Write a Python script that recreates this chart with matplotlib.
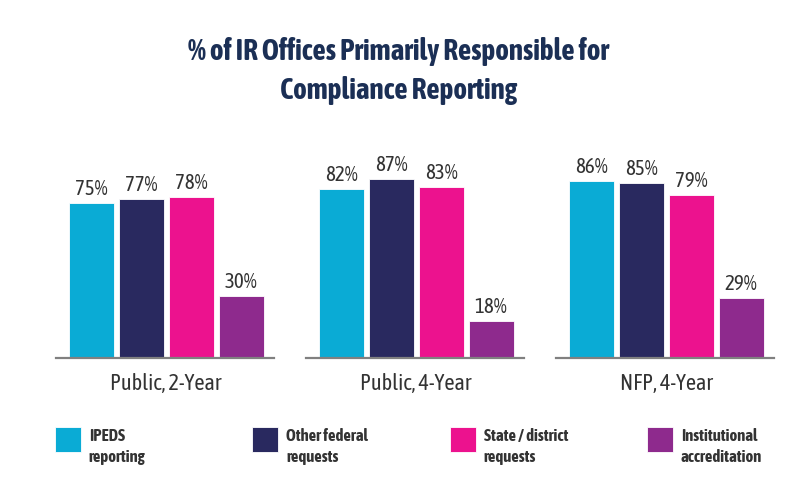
import matplotlib
matplotlib.use("Agg")
import matplotlib.pyplot as plt
from matplotlib import font_manager
from matplotlib.patches import Rectangle

# data
groups = ["Public, 2-Year", "Public, 4-Year", "NFP, 4-Year"]
series = ["IPEDS\nreporting", "Other federal\nrequests", "State / district\nrequests", "Institutional\naccreditation"]
ipeds = [75, 82, 86]
other_fed = [77, 87, 85]
state = [78, 83, 79]
accred = [30, 18, 29]
colors = ["#0aabd5", "#29295f", "#ec128e", "#8e2a8d"]

# look for a condensed face that also has a bold weight
skip = ("Light", "Thin", "Black", "Medium", "Semi", "Extra", "Bold", "Italic")
entries = font_manager.fontManager.ttflist
cand = sorted({f.name for f in entries
               if ("Condensed" in f.name or "Narrow" in f.name) and not any(s in f.name for s in skip)})
def has_bold(name):
    for f in entries:
        w = f.weight if isinstance(f.weight, int) else font_manager.weight_dict.get(f.weight, 400)
        if f.name == name and w >= 700 and f.style == "normal":
            return True
    return False
good = [n for n in cand if has_bold(n)]
fam = good[0] if good else (cand[0] if cand else "Roboto")
plt.rcParams["font.family"] = [fam, "DejaVu Sans"]

W, H = 797, 489
fig = plt.figure(figsize=(W / 100, H / 100), dpi=100)

vals = [ipeds, other_fed, state, accred]
ax_w = 217.5
for g in range(3):
    left = 56 + g * 250
    ax = fig.add_axes([left / W, 1 - 359 / H, ax_w / W, 206 / H])
    heights = [v[g] for v in vals]
    bars = ax.bar(range(4), heights, width=0.9, color=colors, edgecolor="white", linewidth=0.6)
    ax.set_xlim(-0.7, 3.65)
    ax.set_ylim(0, 100)
    for b, h in zip(bars, heights):
        ax.annotate(f"{h}%", (b.get_x() + b.get_width() / 2, h), xytext=(0, 6.5),
                    textcoords="offset points", ha="center", va="baseline",
                    fontsize=15, color="#333333")
    for s in ["top", "left", "right"]:
        ax.spines[s].set_visible(False)
    ax.spines["bottom"].set_color("#808080")
    ax.spines["bottom"].set_linewidth(1.6)
    ax.set_yticks([])
    ax.set_xticks([])
    ax.text(1.5, -0.15, groups[g], transform=ax.get_xaxis_transform(),
            ha="center", va="baseline", fontsize=16, color="#333333")
    ax.patch.set_visible(False)

fig.text(399 / W, 1 - 60 / H, "% of IR Offices Primarily Responsible for", ha="center",
         va="baseline", fontsize=21, fontweight="bold", color="#1b2f55")
fig.text(399 / W, 1 - 99 / H, "Compliance Reporting", ha="center",
         va="baseline", fontsize=21, fontweight="bold", color="#1b2f55")

# legend
for i, (lab, c) in enumerate(zip(series, colors)):
    x0 = 55 + i * 197.3
    fig.add_artist(Rectangle((x0 / W, 1 - 453 / H), 26 / W, 25 / H, transform=fig.transFigure,
                             facecolor=c, edgecolor="white", linewidth=0.6))
    l1, l2 = lab.split("\n")
    fig.text((x0 + 34) / W, 1 - 441 / H, l1, ha="left", va="baseline", fontsize=12,
             fontweight="bold", color="#333333")
    fig.text((x0 + 34) / W, 1 - 462 / H, l2, ha="left", va="baseline", fontsize=12,
             fontweight="bold", color="#333333")

fig.savefig("out.png", dpi=100)
